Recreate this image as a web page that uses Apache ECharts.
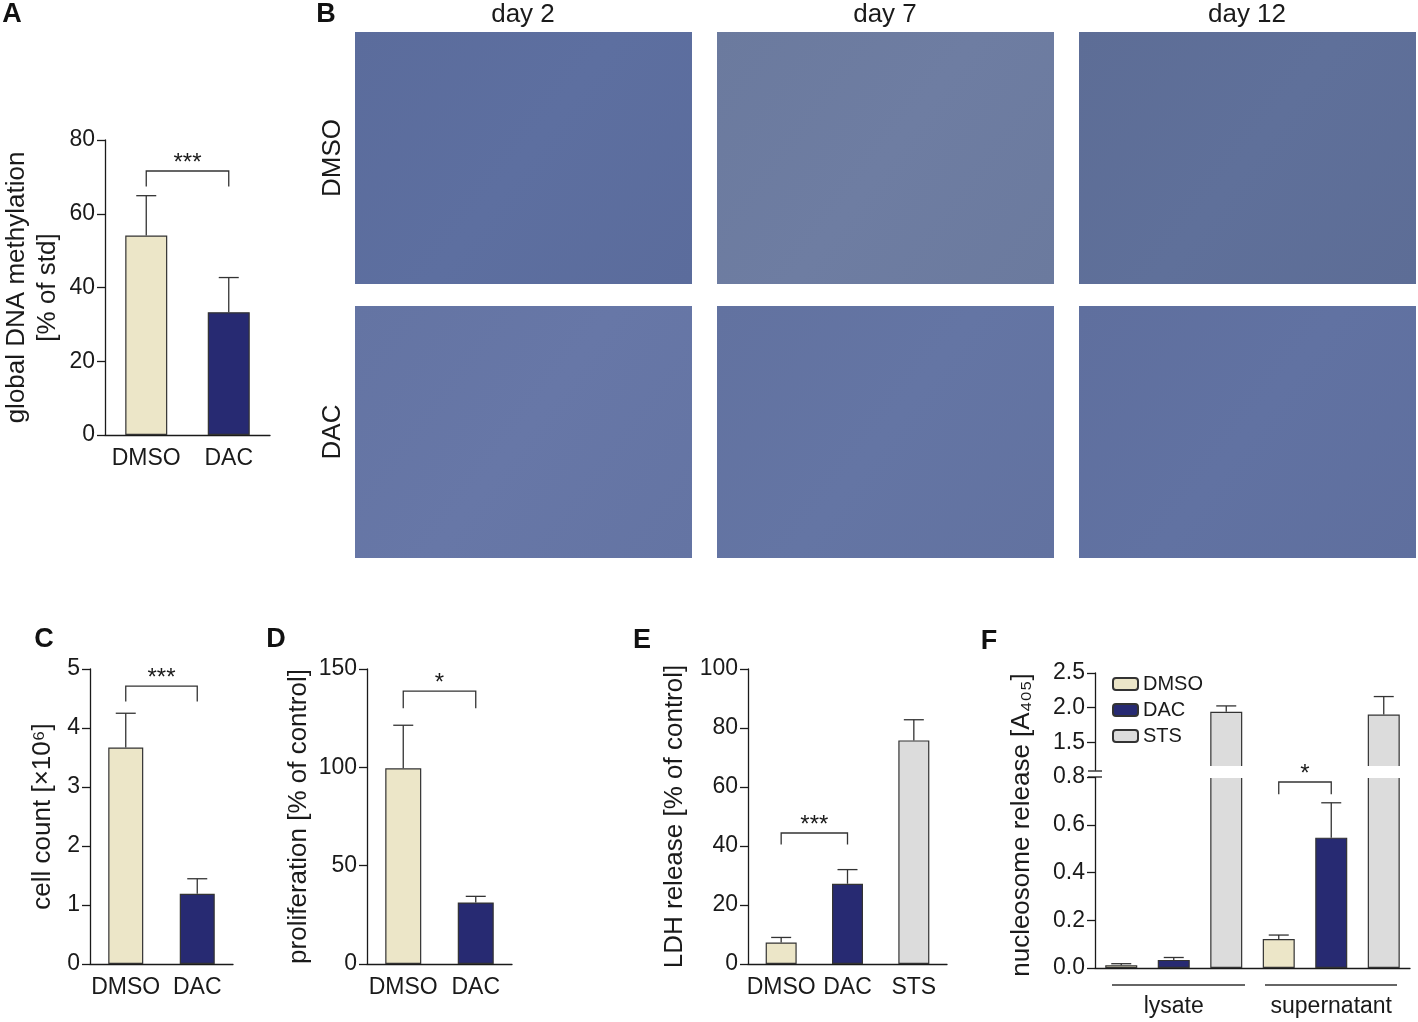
<!DOCTYPE html>
<html>
<head>
<meta charset="utf-8">
<script src="https://cdn.jsdelivr.net/npm/echarts@6/dist/echarts.min.js"></script>
<style>
  html, body { margin: 0; padding: 0; background: #fff; }
  #main { width: 1418px; height: 1022px; }
</style>
</head>
<body>
<div id="main"></div>
<script>
// ---- data ----
var treatAD = ['DMSO', 'DAC'];
var methylMean = [54.1, 33.3];
var methylSd = [10.8, 9.4];
var countMean = [3.67, 1.19];
var countSd = [0.58, 0.255];
var prolifMean = [99.5, 31.3];
var prolifSd = [21.9, 3.1];

var treatE = ['DMSO', 'DAC', 'STS'];
var ldhMean = [7.3, 27.2, 75.8];
var ldhSd = [1.7, 4.8, 7.0];

var fractions = ['lysate', 'supernatant'];
var lysateMean = [0.012, 0.034, 1.94];
var lysateSd = [0.006, 0.010, 0.085];
var superMean = [0.121, 0.546, 1.90];
var superSd = [0.017, 0.146, 0.26];

var days = ['day 2', 'day 7', 'day 12'];
var imgRows = ['DMSO', 'DAC'];

// brackets: [left index, right index, top, drop, stars]
var sigA = [0, 1, 71.6, 67.4, '***'];
var sigC = [0, 1, 4.71, 4.45, '***'];
var sigD = [0, 1, 138.8, 130, '*'];
var sigE = [0, 1, 44.4, 40.5, '***'];
var sigF = [3, 4, 0.779, 0.728, '*'];

var colors = { DMSO: '#ece6c8', DAC: '#272a72', STS: '#dcdcdc' };
var ink = '#1a1a1a';
var font = 'Liberation Sans, Arial, sans-serif';

var chart = echarts.init(document.getElementById('main'), null, { renderer: 'canvas' });

function xAx(gi, cats) {
  return {
    type: 'category', gridIndex: gi, data: cats,
    axisLine: { lineStyle: { color: ink, width: 1.3 } },
    axisTick: { alignWithLabel: true, length: 10, lineStyle: { color: ink, width: 1.3 } },
    axisLabel: { fontSize: 23, color: ink, margin: 12, interval: 0 }
  };
}

function yAx(gi, min, max, interval, name, gap) {
  return {
    type: 'value', gridIndex: gi, min: min, max: max, interval: interval,
    name: name, nameLocation: 'middle', nameGap: gap, nameRotate: 90,
    nameTextStyle: { fontSize: 26, color: ink, lineHeight: 31 },
    axisLine: { show: true, lineStyle: { color: ink, width: 1.3 } },
    axisTick: { show: true, length: 8, lineStyle: { color: ink, width: 1.3 } },
    axisLabel: { fontSize: 23, color: ink, margin: 10 },
    splitLine: { show: false }
  };
}

function bars(ai, name, cats, mean, width) {
  return {
    type: 'bar', name: name, xAxisIndex: ai, yAxisIndex: ai, barWidth: width,
    silent: true,
    itemStyle: { borderColor: '#333', borderWidth: 1.2 },
    data: mean.map(function (v, i) {
      return { value: v, itemStyle: { color: colors[cats[i]] } };
    })
  };
}

function renderErr(params, api) {
  var p0 = api.coord([api.value(0), api.value(1)]);
  var p1 = api.coord([api.value(0), api.value(2)]);
  var st = { stroke: '#333', lineWidth: 1.3 };
  return {
    type: 'group',
    children: [
      { type: 'line', shape: { x1: p0[0], y1: p0[1], x2: p1[0], y2: p1[1] }, style: st },
      { type: 'line', shape: { x1: p1[0] - 10, y1: p1[1], x2: p1[0] + 10, y2: p1[1] }, style: st }
    ]
  };
}

function errors(xi, yi, items) {
  return { type: 'custom', xAxisIndex: xi, yAxisIndex: yi, z: 5, silent: true, renderItem: renderErr, data: items };
}

function errItems(mean, sd) {
  return mean.map(function (v, i) { return [i, v, v + sd[i]]; });
}

function bracket(xi, yi, b) {
  return {
    type: 'custom', xAxisIndex: xi, yAxisIndex: yi, z: 20, silent: true,
    data: [[b[0], b[2]]],
    renderItem: function (params, api) {
      var l = api.coord([b[0], b[2]]);
      var r = api.coord([b[1], b[2]]);
      var d = api.coord([b[0], b[3]]);
      return {
        type: 'group',
        children: [
          { type: 'polyline', shape: { points: [[l[0], d[1]], [l[0], l[1]], [r[0], r[1]], [r[0], d[1]]] },
            style: { stroke: '#333', lineWidth: 1.3, fill: 'none' } },
          { type: 'text', x: (l[0] + r[0]) / 2, y: l[1] - 8,
            style: { text: b[4], fontSize: 24, fontFamily: font, fill: ink, align: 'center', verticalAlign: 'middle' } }
        ]
      };
    }
  };
}

// panel F: six bar slots, two fractions x three treatments
var slotsF = [];
fractions.forEach(function (f) { treatE.forEach(function (t) { slotsF.push(f + ' ' + t); }); });
var meanF = lysateMean.concat(superMean);
var sdF = lysateSd.concat(superSd);
var errLow = [], errUp = [];
meanF.forEach(function (v, i) {
  if (v + sdF[i] < 0.8) errLow.push([i, v, v + sdF[i]]);
  if (v > 1.1) errUp.push([i, v, v + sdF[i]]);
});

function seriesF(ai, t) {
  var k = treatE.indexOf(t);
  return {
    type: 'bar', name: t, xAxisIndex: ai === 4 ? 4 : 6, yAxisIndex: ai, barWidth: 32, barGap: '-100%',
    silent: true, clip: true,
    itemStyle: { color: colors[t], borderColor: '#333', borderWidth: 1.2 },
    data: meanF.map(function (v, i) { return i % 3 === k ? v : '-'; })
  };
}

// image placeholders for panel B (micrographs)
var imgLeft = [355, 717, 1079];
var imgTop = [32, 306];
var imgFill = [['#5b6c9c', '#6b7a9e', '#5d6d96'], ['#6474a3', '#6272a0', '#5f6f9e']];
var graphics = [];
imgTop.forEach(function (top, r) {
  imgLeft.forEach(function (left, c) {
    graphics.push({
      type: 'rect', shape: { x: left, y: top, width: 337, height: 252 },
      style: { fill: new echarts.graphic.LinearGradient(0, 0, 1, 1, [
        { offset: 0, color: imgFill[r][c] },
        { offset: 0.5, color: echarts.color.lift(imgFill[r][c], -0.03) },
        { offset: 1, color: imgFill[r][c] }
      ]) },
      silent: true
    });
  });
});
days.forEach(function (d, c) {
  graphics.push({ type: 'text', x: imgLeft[c] + 168, y: 15,
    style: { text: d, fontSize: 26, fontFamily: font, fill: ink, align: 'center', verticalAlign: 'middle' } });
});
imgRows.forEach(function (t, r) {
  graphics.push({ type: 'text', x: 333, y: imgTop[r] + 126, rotation: Math.PI / 2,
    style: { text: t, fontSize: 26, fontFamily: font, fill: ink, align: 'center', verticalAlign: 'middle' } });
});
// panel letters
[['A', 12, 15], ['B', 326, 15], ['C', 44, 640], ['D', 276, 640], ['E', 642, 641], ['F', 989, 642]].forEach(function (p) {
  graphics.push({ type: 'text', x: p[1], y: p[2],
    style: { text: p[0], fontSize: 27, fontWeight: 'bold', fontFamily: font, fill: '#111', align: 'center', verticalAlign: 'middle' } });
});
// panel F extras: axis name, axis break, fraction underlines
graphics.push({ type: 'text', x: 1022, y: 825, rotation: Math.PI / 2,
  style: { text: 'nucleosome release [A\u2084\u2080\u2085]', fontSize: 26, fontFamily: font, fill: ink, align: 'center', verticalAlign: 'middle' } });
graphics.push({ type: 'rect', z: 10, shape: { x: 1101, y: 766, width: 312, height: 12 }, style: { fill: '#fff' }, silent: true });
graphics.push({ type: 'rect', z: 10, shape: { x: 1090, y: 771, width: 10, height: 6 }, style: { fill: '#fff' }, silent: true });
graphics.push({ type: 'line', z: 11, shape: { x1: 1088, y1: 771, x2: 1102, y2: 771 }, style: { stroke: ink, lineWidth: 1.3 } });
graphics.push({ type: 'line', z: 11, shape: { x1: 1088, y1: 777, x2: 1102, y2: 777 }, style: { stroke: ink, lineWidth: 1.3 } });
graphics.push({ type: 'line', shape: { x1: 1112, y1: 985, x2: 1245, y2: 985 }, style: { stroke: '#333', lineWidth: 1.3 } });
graphics.push({ type: 'line', shape: { x1: 1265, y1: 985, x2: 1397, y2: 985 }, style: { stroke: '#333', lineWidth: 1.3 } });

var upperY = yAx(5, 1.1, 2.5, null, '', 0);
upperY.axisLabel.customValues = [1.5, 2.0, 2.5];
upperY.axisTick.customValues = [1.5, 2.0, 2.5];
upperY.axisLabel.formatter = function (v) { return v.toFixed(1); };
var lowerY = yAx(4, 0, 0.8, 0.2, '', 0);
lowerY.axisLabel.formatter = function (v) { return v.toFixed(1); };

var xF = xAx(4, slotsF);
xF.axisLabel.show = false;
var xFrac = {
  type: 'category', gridIndex: 4, data: fractions, position: 'bottom',
  axisLine: { show: false }, axisTick: { show: false },
  axisLabel: { fontSize: 23, color: ink, margin: 27, interval: 0, hideOverlap: false }
};
var xUpper = { type: 'category', gridIndex: 5, data: slotsF, show: false };

var option = {
  animation: false,
  textStyle: { fontFamily: font },
  graphic: { elements: graphics },
  legend: {
    data: treatE, orient: 'vertical', left: 1107, top: 669,
    itemWidth: 25, itemHeight: 12, itemGap: 6,
    textStyle: { fontSize: 20, color: ink }, selectedMode: false
  },
  grid: [
    { left: 105, top: 140, width: 165, height: 295 },
    { left: 90, top: 669, width: 143, height: 295 },
    { left: 367, top: 669, width: 145, height: 295 },
    { left: 748, top: 669, width: 199, height: 295 },
    { left: 1095, top: 777, width: 315, height: 191 },
    { left: 1095, top: 673, width: 315, height: 97 }
  ],
  xAxis: [xAx(0, treatAD), xAx(1, treatAD), xAx(2, treatAD), xAx(3, treatE), xF, xFrac, xUpper],
  yAxis: [
    yAx(0, 0, 80, 20, 'global DNA methylation\n[% of std]', 42),
    yAx(1, 0, 5, 1, 'cell count [\u00d710\u2076]', 32),
    yAx(2, 0, 150, 50, 'proliferation [% of control]', 48),
    yAx(3, 0, 100, 20, 'LDH release [% of control]', 58),
    lowerY,
    upperY
  ],
  series: [
    bars(0, 'methylation', treatAD, methylMean, 42),
    errors(0, 0, errItems(methylMean, methylSd)),
    bracket(0, 0, sigA),
    bars(1, 'cell count', treatAD, countMean, 35),
    errors(1, 1, errItems(countMean, countSd)),
    bracket(1, 1, sigC),
    bars(2, 'proliferation', treatAD, prolifMean, 36),
    errors(2, 2, errItems(prolifMean, prolifSd)),
    bracket(2, 2, sigD),
    bars(3, 'LDH', treatE, ldhMean, 31),
    errors(3, 3, errItems(ldhMean, ldhSd)),
    bracket(3, 3, sigE),
    seriesF(4, 'DMSO'), seriesF(4, 'DAC'), seriesF(4, 'STS'),
    seriesF(5, 'DMSO'), seriesF(5, 'DAC'), seriesF(5, 'STS'),
    errors(4, 4, errLow),
    errors(6, 5, errUp),
    bracket(4, 4, sigF)
  ]
};

chart.setOption(option);
</script>
</body>
</html>
